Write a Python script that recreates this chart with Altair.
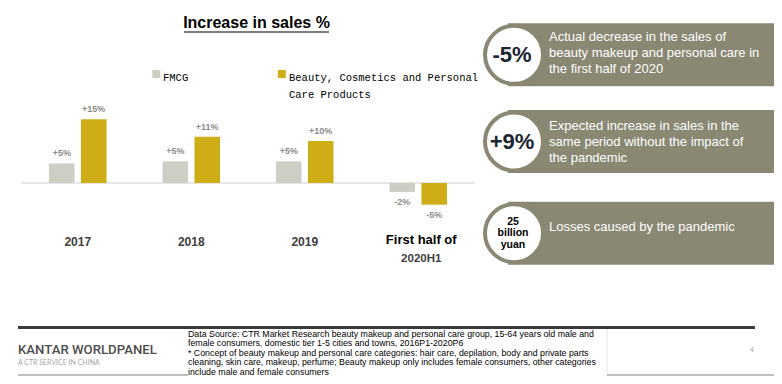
import altair as alt
import pandas as pd

# ---------------- data ----------------
categories = ["2017", "2018", "2019", "2020H1"]
category_line1 = ["2017", "2018", "2019", "First half of"]
category_line2 = ["", "", "", "2020H1"]
series = ["FMCG", "Beauty, Cosmetics and Personal Care Products"]
fmcg_values = [4.6, 5.1, 5.1, -2.1]
beauty_values = [15.0, 10.9, 9.9, -5.1]
fmcg_labels = ["+5%", "+5%", "+5%", "-2%"]
beauty_labels = ["+15%", "+11%", "+10%", "-5%"]

title_text = "Increase in sales %"
legend_lines = [["FMCG"], ["Beauty, Cosmetics and Personal", "Care Products"]]

highlight_values = [["-5%"], ["+9%"], ["25", "billion", "yuan"]]
highlight_texts = [
    ["Actual decrease in the sales of", "beauty makeup and personal care in", "the first half of 2020"],
    ["Expected increase in sales in the", "same period without the impact of", "the pandemic"],
    ["Losses caused by the pandemic"],
]

brand = "KANTAR WORLDPANEL"
brand_sub = "A CTR SERVICE IN CHINA"
source_lines = [
    "Data Source: CTR Market Research beauty makeup and personal care group, 15-64 years old male and",
    "female consumers, domestic tier 1-5 cities and towns, 2016P1-2020P6",
    "* Concept of beauty makeup and personal care categories: hair care, depilation, body and private parts",
    "cleaning, skin care, makeup, perfume; Beauty makeup only includes female consumers, other categories",
    "include male and female consumers",
]
page_number = "4"

# ---------------- tables ----------------
rows = []
for i, c in enumerate(categories):
    rows.append({"category": c, "series": series[0], "value": fmcg_values[i], "label": fmcg_labels[i]})
    rows.append({"category": c, "series": series[1], "value": beauty_values[i], "label": beauty_labels[i]})
bars_df = pd.DataFrame(rows)
cat_df = pd.DataFrame({"category": categories, "line1": category_line1, "line2": category_line2})
one = pd.DataFrame({"k": [0]})

GRAY = "#CFCEC5"
GOLD = "#CFAD16"
BOX = "#8A8873"
FONT = "Liberation Sans"

x_enc = alt.X("category:N", sort=categories, axis=None,
              scale=alt.Scale(range=[13, 467], paddingInner=0, paddingOuter=0))
xoff_enc = alt.XOffset("series:N", sort=series,
                       scale=alt.Scale(paddingInner=0.2, paddingOuter=0.875))
y_scale = alt.Scale(domain=[-10, 20], range=[217.5, 90], nice=False, zero=False)
y_enc = alt.Y("value:Q", axis=None, scale=y_scale)
color_enc = alt.Color("series:N", sort=series, legend=None,
                      scale=alt.Scale(domain=series, range=[GRAY, GOLD]))

base = alt.Chart(bars_df).transform_calculate(zero="0")

bars = base.mark_bar().encode(x=x_enc, xOffset=xoff_enc, y=y_enc, y2="zero:Q", color=color_enc)

lab_style = dict(font=FONT, fontSize=9, fontWeight="bold", color="#8C8C8C", baseline="middle")
labels_pos = base.transform_filter("datum.value >= 0").mark_text(dy=-10, **lab_style).encode(
    x=x_enc, xOffset=xoff_enc, y=y_enc, text="label:N")
labels_neg = base.transform_filter("datum.value < 0").mark_text(dy=10.5, **lab_style).encode(
    x=x_enc, xOffset=xoff_enc, y=y_enc, text="label:N")

zero_rule = base.mark_rule(color="#E6E6E6", strokeWidth=2).encode(
    y=alt.Y("zero:Q", axis=None, scale=y_scale),
    x=alt.value(13), x2=alt.value(467))

cat_base = alt.Chart(cat_df)
year_labels = cat_base.transform_filter("datum.line2 == ''").mark_text(
    font=FONT, fontSize=12, fontWeight="bold", color="#404040", baseline="middle").encode(
    x=x_enc, y=alt.value(234), text="line1:N")
half_line1 = cat_base.transform_filter("datum.line2 != ''").mark_text(
    font=FONT, fontSize=13, fontWeight="bold", color="#000000", baseline="middle", dx=3).encode(
    x=x_enc, y=alt.value(232), text="line1:N")
half_line2 = cat_base.transform_filter("datum.line2 != ''").mark_text(
    font=FONT, fontSize=11.5, fontWeight="bold", color="#404040", baseline="middle", dx=3).encode(
    x=x_enc, y=alt.value(250.5), text="line2:N")

# title + underline
title = alt.Chart(one).mark_text(font=FONT, fontSize=16, fontWeight="bold", color="#000000",
                                 baseline="middle", align="center").encode(
    x=alt.value(248.5), y=alt.value(15), text=alt.value(title_text))
underline = alt.Chart(one).mark_rule(color="#000000", strokeWidth=1.2).encode(
    x=alt.value(176), x2=alt.value(321), y=alt.value(24))

# legend (manual)
leg_sq1 = alt.Chart(one).mark_square(size=64, color=GRAY, opacity=1).encode(x=alt.value(148.3), y=alt.value(66))
leg_sq2 = alt.Chart(one).mark_square(size=64, color=GOLD, opacity=1).encode(x=alt.value(273.8), y=alt.value(66))
leg_style = dict(font="Liberation Mono", fontSize=10.5, color="#000000", baseline="middle", align="left", lineHeight=17.3)
leg_t1 = alt.Chart(one).mark_text(**leg_style).encode(x=alt.value(155), y=alt.value(70), text=alt.value(legend_lines[0]))
leg_t2 = alt.Chart(one).mark_text(**leg_style).encode(x=alt.value(281), y=alt.value(70), text=alt.value(legend_lines[1]))

# right highlight boxes
box_tops = [15.3, 102, 193.7]
text_offsets = [14, 16, 25]
box_h = 63
layers_right = []
for i in range(3):
    top = box_tops[i]
    mid = top + box_h / 2
    layers_right.append(alt.Chart(one).mark_rect(color=BOX).encode(
        x=alt.value(500), x2=alt.value(766), y=alt.value(top), y2=alt.value(top + box_h)))
    layers_right.append(alt.Chart(one).mark_point(shape="circle", filled=True, size=3364, fill="white",
                                                  stroke=BOX, strokeWidth=4, opacity=1).encode(
        x=alt.value(506), y=alt.value(mid)))
    vals = highlight_values[i]
    if len(vals) == 1:
        layers_right.append(alt.Chart(one).mark_text(font=FONT, fontSize=22, fontWeight="bold", color="#1C2331",
                                                     baseline="middle", align="center").encode(
            x=alt.value(504), y=alt.value(mid), text=alt.value(vals[0])))
    else:
        layers_right.append(alt.Chart(one).mark_text(font=FONT, fontSize=10.5, fontWeight="bold", color="#000000",
                                                     baseline="middle", align="center", lineHeight=11.5).encode(
            x=alt.value(505), y=alt.value(mid - 11.5), text=alt.value(vals)))
    lines = highlight_texts[i]
    layers_right.append(alt.Chart(one).mark_text(font=FONT, fontSize=13, color="#FFFFFF",
                                                 baseline="middle", align="left", lineHeight=16).encode(
        x=alt.value(541), y=alt.value(top + text_offsets[i]), text=alt.value(lines)))

# footer
footer_top = alt.Chart(one).mark_rule(color="#3B3B3B", strokeWidth=2.8).encode(
    x=alt.value(10), x2=alt.value(747), y=alt.value(319.5))
footer_b1 = alt.Chart(one).mark_rule(color="#BFBFBF", strokeWidth=2.2).encode(
    x=alt.value(10), x2=alt.value(180), y=alt.value(367))
footer_b2 = alt.Chart(one).mark_rule(color="#BFBFBF", strokeWidth=2.2).encode(
    x=alt.value(599), x2=alt.value(766), y=alt.value(367))
footer_edge = alt.Chart(one).mark_rule(color="#E3E3E3", strokeWidth=1).encode(
    x=alt.value(599), y=alt.value(321), y2=alt.value(366))
brand_t = alt.Chart(one).mark_text(font="Roboto", fontSize=13.2, fontWeight=500, color="#4D4D4D",
                                   baseline="middle", align="left").encode(
    x=alt.value(10), y=alt.value(342), text=alt.value(brand))
brand_s = alt.Chart(one).mark_text(font="Lato", fontSize=7, color="#A6A6A6", baseline="middle", align="left").encode(
    x=alt.value(10), y=alt.value(355), text=alt.value(brand_sub))
source_t = alt.Chart(one).mark_text(font=FONT, fontSize=8.8, color="#000000", baseline="top", align="left",
                                    lineHeight=9.6).encode(
    x=alt.value(180), y=alt.value(321.5), text=alt.value(source_lines))
page_t = alt.Chart(one).mark_text(font=FONT, fontSize=7, color="#A0A0A0", baseline="middle", align="center").encode(
    x=alt.value(744), y=alt.value(342), text=alt.value(page_number))

chart = alt.layer(
    zero_rule, bars, labels_pos, labels_neg, year_labels, half_line1, half_line2,
    title, underline, leg_sq1, leg_sq2, leg_t1, leg_t2,
    *layers_right,
    footer_top, footer_b1, footer_b2, footer_edge, brand_t, brand_s, source_t, page_t,
).properties(
    width=766, height=368,
    autosize=alt.AutoSizeParams(type="fit", contains="padding"),
    padding=0,
    background="#FFFFFF",
).configure_view(stroke=None)

chart.save("out.html", embed_options={"renderer": "svg", "actions": False})
